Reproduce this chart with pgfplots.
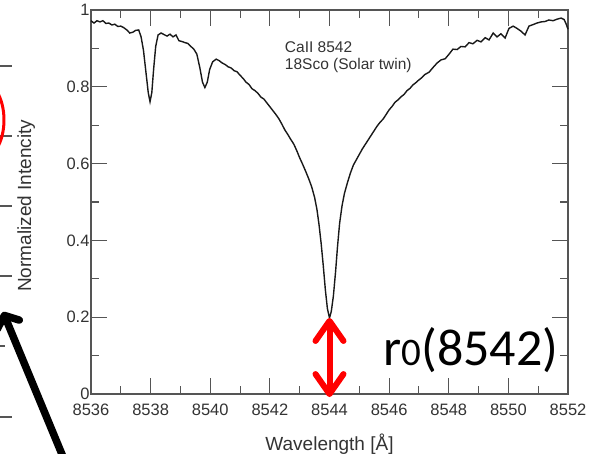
\documentclass[border=0pt]{standalone}
\usepackage{pgfplots}
\pgfplotsset{compat=1.18}
\usepackage{fontspec}
\setmainfont{Liberation Sans}
\newfontfamily\carlito{Carlito}
\usetikzlibrary{arrows.meta}

\definecolor{axgray}{HTML}{555555}
\definecolor{txtgray}{HTML}{333333}

% CaII 8542 profile of 18 Sco
\pgfplotstableread{
lam y
8536.00 0.972
8536.10 0.966
8536.20 0.972
8536.30 0.969
8536.40 0.972
8536.50 0.965
8536.60 0.966
8536.70 0.961
8536.80 0.963
8536.90 0.957
8537.00 0.958
8537.10 0.954
8537.20 0.948
8537.30 0.940
8537.40 0.942
8537.50 0.947
8537.60 0.948
8537.68 0.930
8537.76 0.895
8537.84 0.840
8537.92 0.785
8537.98 0.761
8538.04 0.785
8538.10 0.845
8538.17 0.905
8538.25 0.935
8538.35 0.940
8538.45 0.936
8538.55 0.932
8538.65 0.937
8538.75 0.930
8538.85 0.935
8538.95 0.920
8539.05 0.918
8539.15 0.915
8539.25 0.913
8539.35 0.905
8539.45 0.898
8539.55 0.885
8539.65 0.850
8539.74 0.812
8539.82 0.798
8539.90 0.812
8539.98 0.845
8540.08 0.865
8540.20 0.872
8540.30 0.868
8540.40 0.862
8540.50 0.858
8540.60 0.852
8540.70 0.849
8540.80 0.842
8540.90 0.839
8541.00 0.830
8541.10 0.822
8541.20 0.812
8541.30 0.806
8541.40 0.795
8541.50 0.790
8541.60 0.783
8541.70 0.773
8541.80 0.768
8541.90 0.758
8542.00 0.748
8542.10 0.738
8542.20 0.728
8542.30 0.717
8542.40 0.703
8542.50 0.688
8542.60 0.676
8542.70 0.663
8542.80 0.651
8542.90 0.634
8543.00 0.615
8543.10 0.598
8543.20 0.580
8543.30 0.561
8543.40 0.540
8543.50 0.512
8543.58 0.480
8543.65 0.440
8543.72 0.392
8543.79 0.335
8543.86 0.272
8543.93 0.222
8544.00 0.198
8544.06 0.215
8544.13 0.255
8544.20 0.315
8544.27 0.385
8544.34 0.445
8544.42 0.490
8544.50 0.522
8544.60 0.550
8544.70 0.575
8544.80 0.596
8544.90 0.610
8545.00 0.624
8545.10 0.638
8545.20 0.650
8545.30 0.662
8545.40 0.674
8545.50 0.686
8545.60 0.698
8545.70 0.708
8545.80 0.716
8545.90 0.728
8546.00 0.740
8546.10 0.749
8546.20 0.760
8546.30 0.766
8546.40 0.774
8546.50 0.780
8546.60 0.790
8546.70 0.796
8546.80 0.805
8546.90 0.811
8547.00 0.818
8547.10 0.824
8547.20 0.832
8547.34 0.838
8547.47 0.850
8547.61 0.862
8547.74 0.870
8547.88 0.873
8548.01 0.885
8548.14 0.898
8548.28 0.897
8548.41 0.905
8548.55 0.904
8548.68 0.915
8548.81 0.912
8548.95 0.921
8549.08 0.917
8549.22 0.928
8549.35 0.922
8549.49 0.940
8549.62 0.930
8549.75 0.938
8549.89 0.927
8550.02 0.952
8550.16 0.958
8550.29 0.952
8550.42 0.945
8550.56 0.935
8550.69 0.958
8550.83 0.962
8550.96 0.966
8551.10 0.969
8551.23 0.970
8551.36 0.974
8551.50 0.972
8551.63 0.976
8551.77 0.979
8551.87 0.975
8551.93 0.965
8552.00 0.950
}\spectrum

\begin{document}
\begin{tikzpicture}[x=1bp,y=1bp]
\useasboundingbox (-91,-60) rectangle (506,394);
\clip (-91,-60) rectangle (506,394);

% pieces of the neighbouring figure on the left
\draw[axgray, line width=1.2bp] (-91,328) -- (-79,328) (-91,258) -- (-79,258)
  (-91,188) -- (-79,188) (-91,118) -- (-79,118) (-91,48) -- (-86,48) (-91,-23) -- (-79,-23);
\draw[red, line width=3bp] (-111,274) ellipse [x radius=24, y radius=40];
\draw[black, line width=7.5bp, -{Straight Barb[round, length=10bp, width=24bp]}] (-25,-70) -- (-88,82);

\begin{axis}[
  at={(0,0)}, anchor=south west,
  width=477bp, height=384bp, scale only axis,
  xmin=8536, xmax=8552, ymin=0, ymax=1,
  xtick={8536,8538,8540,8542,8544,8546,8548,8550,8552},
  ytick={0,0.2,0.4,0.6,0.8,1},
  minor x tick num=1, minor y tick num=1,
  tick align=inside,
  major tick length=16bp, minor tick length=8bp,
  axis line style={axgray, line width=1.3bp},
  every tick/.style={axgray, line width=1.1bp},
  /pgf/number format/assume math mode=true,
  /pgf/number format/1000 sep={},
  ticklabel style={font=\fontsize{16.5bp}{18bp}\selectfont, text=txtgray},
  xticklabel style={yshift=-6bp},
  yticklabel style={xshift=2bp},
  xlabel={Wavelength [Å]},
  ylabel={Normalized Intencity},
  label style={font=\fontsize{19bp}{21bp}\selectfont, text=txtgray},
  xlabel style={at={(axis description cs:0.5,-0.13)}, anchor=center},
  ylabel style={at={(axis description cs:-0.136,0.49)}, anchor=center},
  clip=false,
]
\addplot[black!90, line width=1.4bp] table[x=lam, y=y] {\spectrum};

\node[anchor=base west, inner sep=0, font=\fontsize{15.5bp}{17bp}\selectfont, text=txtgray]
  at (axis cs:8542.5,0.888) {CaII 8542};
\node[anchor=base west, inner sep=0, font=\fontsize{15.5bp}{17bp}\selectfont, text=txtgray]
  at (axis cs:8542.5,0.846) {18Sco (Solar twin)};

\draw[red, line width=6bp, {Straight Barb[round, length=20bp, width=28bp]}-{Straight Barb[round, length=20bp, width=28bp]}]
  (axis cs:8544,0.198) -- (axis cs:8544,-0.008);

\node[anchor=base west, inner sep=0, font=\carlito\fontsize{52bp}{56bp}\selectfont]
  at (axis cs:8545.80,0.0755) {r{\fontsize{39bp}{40bp}\selectfont 0}(8542)};
\end{axis}
\end{tikzpicture}
\end{document}
